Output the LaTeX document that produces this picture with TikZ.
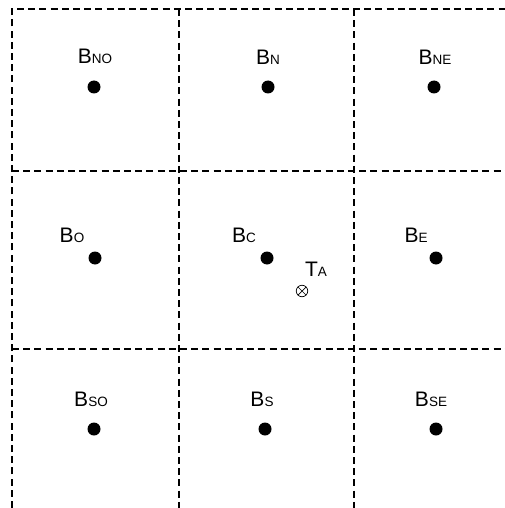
\documentclass[tikz,border=0pt]{standalone}
\usepackage{fontspec}
\setmainfont{Liberation Sans}
\usetikzlibrary{positioning}
\newcommand{\bsub}[2]{#1{\fontsize{13.5}{13.5}\selectfont #2}}

\begin{document}
\begin{tikzpicture}[x=1pt, y=-1pt,
  every node/.style={font=\fontsize{21}{21}\selectfont},
  grd/.style ={dash pattern=on 7pt off 4.2pt, line width=1.6pt},
  ctr/.style ={circle, fill=black, minimum size=13pt, inner sep=0pt},
  tgt/.style ={circle, draw, line width=0.7pt, minimum size=11.5pt, inner sep=0pt,
               path picture={\draw[line width=0.7pt]
                 (path picture bounding box.north west) -- (path picture bounding box.south east)
                 (path picture bounding box.north east) -- (path picture bounding box.south west);}},
  tag/.style ={inner sep=0pt}
]
  \useasboundingbox (0,0) rectangle (505,508);
  % grid
  \draw[grd] (12,508) -- (12,9) -- (505,9);
  \draw[grd] (12,171) -- (505,171);
  \draw[grd] (12,349) -- (505,349);
  \draw[grd] (179,9) -- (179,508);
  \draw[grd] (354,9) -- (354,508);
  % centres
  \node[ctr] (no) at (94,87)  {};
  \node[ctr] (n)  at (268,87) {};
  \node[ctr] (ne) at (434,87) {};
  \node[ctr] (o)  at (95,258) {};
  \node[ctr] (c)  at (267,258) {};
  \node[ctr] (e)  at (436,258) {};
  \node[ctr] (so) at (94,429) {};
  \node[ctr] (s)  at (265,429) {};
  \node[ctr] (se) at (436,429) {};
  \node[tgt] (ta) at (302,291) {};
  % labels
  \node[tag, above=16pt of no, xshift=1pt]   (lno) {\bsub{B}{NO}};
  \node[tag, above=16pt of n]                (ln)  {\bsub{B}{N}};
  \node[tag, above=16pt of ne, xshift=1pt]   (lne) {\bsub{B}{NE}};
  \node[tag, above=8.5pt of o, xshift=-23pt] (lo)  {\bsub{B}{O}};
  \node[tag, above=8.5pt of c, xshift=-23pt] (lc)  {\bsub{B}{C}};
  \node[tag, above=8.5pt of e, xshift=-20pt] (le)  {\bsub{B}{E}};
  \node[tag, above=8.5pt of ta, xshift=14pt] (lta) {\bsub{T}{A}};
  \node[tag, above=15.5pt of so, xshift=-3pt] (lso) {\bsub{B}{SO}};
  \node[tag, above=15.5pt of s, xshift=-3pt]  (ls)  {\bsub{B}{S}};
  \node[tag, above=15.5pt of se, xshift=-5pt] (lse) {\bsub{B}{SE}};
\end{tikzpicture}
\end{document}
